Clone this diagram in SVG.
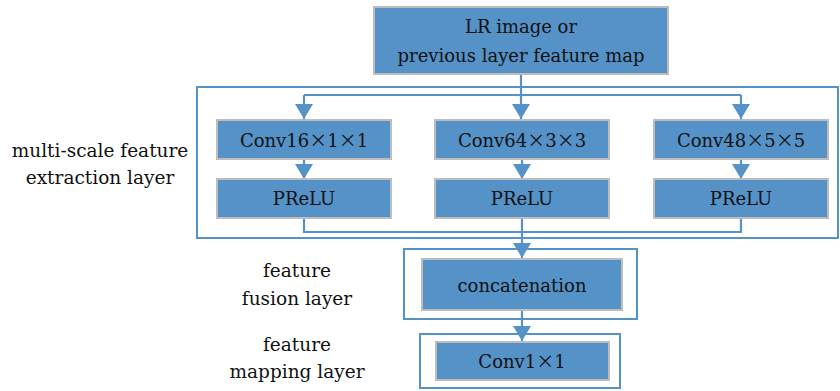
<svg xmlns="http://www.w3.org/2000/svg" width="840" height="391" viewBox="0 0 840 391">
<style>
.box{fill:#5592C8;stroke:#BDBDBD;stroke-width:2}
.frame{fill:none;stroke:#5592C8;stroke-width:2}
.ln{fill:none;stroke:#5592C8;stroke-width:2.2}
text{font-family:"DejaVu Serif","Liberation Serif",serif;font-size:18px;fill:#111;text-anchor:middle}
.x{font-family:"Noto Sans CJK SC","DejaVu Serif",sans-serif}
.lbl{font-size:18.5px}
</style>
<defs>
<marker id="ah" viewBox="0 0 15 18" refX="15" refY="9" markerWidth="15" markerHeight="18" markerUnits="userSpaceOnUse" orient="auto">
<path d="M0,0 L15,9 L0,18 Z" fill="#5592C8"/>
</marker>
</defs>
<rect class="frame" x="197" y="87" width="641" height="151"/>
<rect class="frame" x="404" y="249" width="233" height="70"/>
<rect class="frame" x="420" y="334" width="200" height="54"/>
<g id="connectors">
<path class="ln" d="M521,75 V119" marker-end="url(#ah)"/>
<path class="ln" d="M304,95 H741"/>
<path class="ln" d="M304,95 V119" marker-end="url(#ah)"/>
<path class="ln" d="M741,95 V119" marker-end="url(#ah)"/>
<path class="ln" d="M304,159 V179" marker-end="url(#ah)"/>
<path class="ln" d="M522,159 V179" marker-end="url(#ah)"/>
<path class="ln" d="M741,159 V179" marker-end="url(#ah)"/>
<path class="ln" d="M304,218 V232 H741 V218"/>
<path class="ln" d="M522,218 V258" marker-end="url(#ah)"/>
<path class="ln" d="M522,310 V341" marker-end="url(#ah)"/>
</g>
<g id="input">
<rect class="box" x="374" y="7" width="294" height="67"/>
<text x="521" y="33">LR image or</text>
<text x="521" y="62">previous layer feature map</text>
</g>
<g id="conv16">
<rect class="box" x="217" y="120" width="174" height="39"/>
<text x="304" y="147">Conv16<tspan class="x">×</tspan>1<tspan class="x">×</tspan>1</text>
</g>
<g id="conv64">
<rect class="box" x="435" y="120" width="174" height="39"/>
<text x="522" y="147">Conv64<tspan class="x">×</tspan>3<tspan class="x">×</tspan>3</text>
</g>
<g id="conv48">
<rect class="box" x="654" y="120" width="174" height="39"/>
<text x="741" y="147">Conv48<tspan class="x">×</tspan>5<tspan class="x">×</tspan>5</text>
</g>
<g id="prelu1">
<rect class="box" x="217" y="179" width="174" height="39"/>
<text x="304" y="205">PReLU</text>
</g>
<g id="prelu2">
<rect class="box" x="435" y="179" width="174" height="39"/>
<text x="522" y="205">PReLU</text>
</g>
<g id="prelu3">
<rect class="box" x="654" y="179" width="174" height="39"/>
<text x="741" y="205">PReLU</text>
</g>
<g id="concat">
<rect class="box" x="422" y="259" width="200" height="51"/>
<text x="522" y="292">concatenation</text>
</g>
<g id="conv1x1">
<rect class="box" x="436" y="342" width="173" height="38"/>
<text x="522" y="368">Conv1<tspan class="x">×</tspan>1</text>
</g>
<g id="labels">
<text class="lbl" x="100" y="157">multi-scale feature</text>
<text class="lbl" x="100" y="184">extraction layer</text>
<text class="lbl" x="297" y="277">feature</text>
<text class="lbl" x="297" y="305">fusion layer</text>
<text class="lbl" x="297" y="351">feature</text>
<text class="lbl" x="297" y="378">mapping layer</text>
</g>
</svg>
